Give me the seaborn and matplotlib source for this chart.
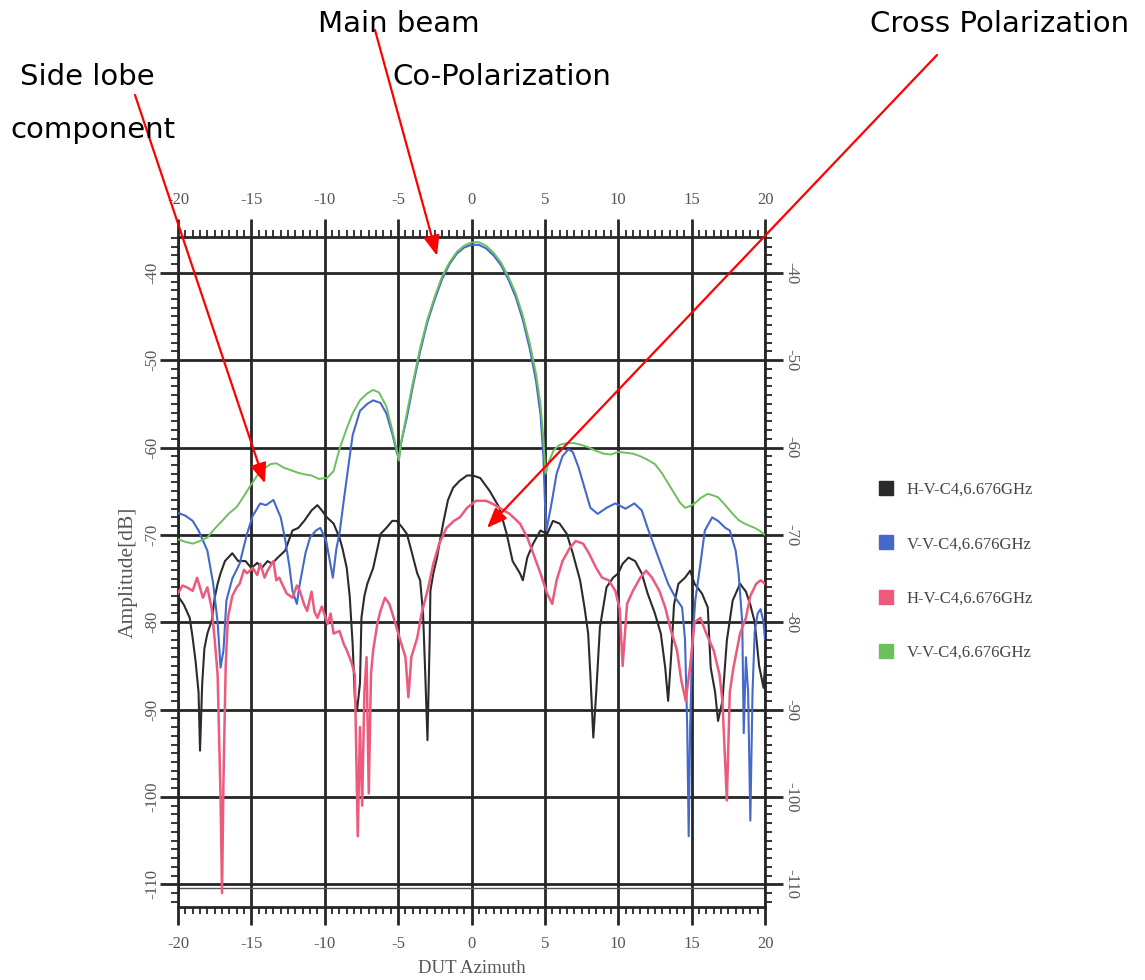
import matplotlib
matplotlib.use("Agg")
import matplotlib.pyplot as plt
from matplotlib.lines import Line2D
from matplotlib.ticker import MultipleLocator
import seaborn as sns
import pandas as pd

# ---------------- data ----------------
hv1_x = [-20, -19.6, -19.2, -19.0, -18.8, -18.6, -18.5, -18.35, -18.2, -18.0, -17.7, -17.5, -17.3, -17.1,
         -16.8, -16.3, -15.9, -15.4, -15.0, -14.6, -14.3, -13.9, -13.6, -13.2, -12.7, -12.2, -11.8, -11.4,
         -10.9, -10.5, -10.2, -9.85, -9.4, -9.0, -8.8, -8.5, -8.3, -8.1, -7.95, -7.8, -7.6, -7.5, -7.3, -7.1,
         -6.7, -6.4, -6.2, -5.8, -5.4, -5.1, -4.7, -4.4, -4.1, -3.7, -3.5, -3.3, -3.15, -3.0, -2.85, -2.8,
         -2.6, -2.35, -2.15, -1.9, -1.6, -1.25, -0.8, -0.3, 0.1, 0.6, 1.25, 1.9, 2.4, 2.8, 3.3, 3.5, 3.8,
         4.2, 4.7, 5.15, 5.55, 6.0, 6.5, 6.9, 7.4, 7.7, 7.95, 8.1, 8.3, 8.5, 8.75, 9.2, 9.65, 10.0, 10.3,
         10.7, 11.15, 11.6, 12.0, 12.5, 12.9, 13.2, 13.4, 13.6, 13.8, 14.1, 14.55, 14.9, 15.2, 15.7, 16.1,
         16.3, 16.6, 16.8, 17.1, 17.4, 17.8, 18.3, 18.7, 19.0, 19.3, 19.6, 19.9, 20]
hv1_y = [-77.0, -78.0, -79.5, -81.8, -84.5, -88.0, -94.7, -87.0, -83.0, -81.3, -79.8, -77.2, -75.6, -74.4,
         -73.0, -72.1, -73.0, -73.0, -73.8, -73.2, -73.8, -73.0, -73.3, -72.6, -71.8, -69.5, -69.2, -68.4,
         -67.2, -66.6, -67.2, -68.0, -68.7, -70.3, -71.5, -73.8, -77.0, -82.5, -88.6, -90.1, -87.0, -79.5, -77.0, -75.6,
         -73.8, -71.5, -69.9, -69.2, -68.4, -68.4, -69.2, -69.9, -71.8, -74.4, -75.2, -79.0, -86.0, -93.5, -82.0, -76.4,
         -74.4, -72.6, -70.7, -68.4, -66.0, -64.6, -63.8, -63.2, -63.2, -63.5, -65.0, -66.9, -69.9, -73.0, -74.4, -75.2, -72.6,
         -71.0, -69.5, -69.9, -68.4, -68.7, -69.9, -72.1, -75.2, -78.3, -81.3, -86.0, -93.2, -88.0, -80.6, -76.0, -74.9, -74.4, -73.3,
         -72.6, -73.0, -74.4, -76.7, -79.0, -81.3, -85.2, -89.0, -84.0, -78.0, -75.6, -74.9, -74.1, -75.6, -76.7, -78.3,
         -85.2, -88.0, -91.3, -89.0, -82.1, -77.5, -75.6, -76.5, -78.0, -80.0, -85.0, -87.5, -85.0]

vv1_x = [-20, -19.5, -19.0, -18.6, -18.0, -17.6, -17.3, -17.1, -16.9, -16.7, -16.3, -15.8, -15.3, -14.9,
         -14.4, -14.0, -13.5, -13.0, -12.7, -12.4, -12.2, -11.9, -11.7, -11.3, -11.0, -10.6, -10.3, -9.9,
         -9.6, -9.45, -9.2, -9.0, -8.7, -8.5, -8.1, -7.6, -7.1, -6.7, -6.2, -5.8, -5.4, -5.1, -4.95,
         -4.8, -4.4, -4.0, -3.5, -3.0, -2.5, -2.0, -1.5, -1.0, -0.5, 0.0, 0.5, 1.0, 1.5, 2.0, 2.5, 3.0,
         3.5, 4.0, 4.4, 4.7, 4.9, 5.0, 5.1, 5.4, 5.8, 6.2, 6.6, 6.9, 7.3, 7.7, 8.1, 8.6, 9.2, 9.8, 10.5,
         11.1, 11.6, 12.0, 12.5, 13.0, 13.4, 13.9, 14.35, 14.55, 14.7, 14.8, 14.9, 15.05, 15.25, 15.6,
         15.9, 16.4, 16.8, 17.3, 17.6, 18.0, 18.2, 18.45, 18.55, 18.7, 18.85, 19.0, 19.15, 19.3, 19.5,
         19.7, 19.9, 20]
vv1_y = [-67.5, -67.8, -68.4, -69.5, -71.8, -75.6, -80.0, -85.2, -83.2, -77.5, -75.0, -73.3, -69.9, -67.8,
         -66.4, -66.6, -66.0, -68.0, -70.5, -73.7, -76.4, -77.9, -75.6, -72.0, -70.3, -69.5, -69.2, -70.7,
         -73.5, -74.9, -71.5, -69.9, -66.0, -63.5, -58.6, -55.8, -55.0, -54.6, -54.9, -56.1, -58.4, -60.5, -61.3,
         -59.5, -56.5, -53.0, -49.0, -45.6, -43.0, -40.7, -39.0, -37.8, -37.1, -36.8, -36.8, -37.2, -38.0, -39.1, -40.7, -42.7,
         -45.4, -48.9, -52.4, -56.2, -61.0, -66.0, -69.5, -66.9, -63.0, -61.0, -60.2, -60.5, -62.3, -64.6, -66.9, -67.6, -66.9, -66.4, -67.0,
         -66.4, -67.2, -69.2, -71.5, -73.8, -75.6, -77.2, -78.3, -82.0, -92.0, -104.5, -92.0, -82.0, -77.5, -73.3,
         -69.5, -68.0, -68.4, -69.2, -69.5, -71.8, -74.4, -80.0, -92.7, -84.0, -88.0, -102.7, -88.0, -81.0, -79.0,
         -78.5, -80.0, -82.0]

hv2_x = [-20, -19.7, -19.4, -19.0, -18.7, -18.3, -18.0, -17.7, -17.5, -17.3, -17.1, -17.0, -16.9, -16.75,
         -16.6, -16.3, -16.0, -15.8, -15.5, -15.3, -14.9, -14.6, -14.4, -14.1, -13.9, -13.5, -13.3, -13.1,
         -12.8, -12.6, -12.2, -11.9, -11.7, -11.4, -11.2, -10.9, -10.7, -10.5, -10.2, -9.8, -9.6, -9.4, -9.0,
         -8.7, -8.5, -8.2, -7.95, -7.75, -7.6, -7.45, -7.3, -7.15, -7.0, -6.85, -6.7, -6.4, -6.2, -5.9, -5.6,
         -5.3, -4.9, -4.5, -4.3, -4.1, -3.7, -3.4, -3.0, -2.6, -2.2, -1.7, -1.2, -0.8, -0.3, 0.3, 1.0, 1.5,
         1.9, 2.6, 3.3, 3.8, 4.2, 4.7, 5.15, 5.5, 5.8, 6.2, 6.7, 7.1, 7.6, 8.0, 8.5, 8.9, 9.35, 9.8, 10.1,
         10.3, 10.6, 11.0, 11.5, 11.9, 12.3, 12.8, 13.2, 13.6, 14.0, 14.3, 14.6, 14.9, 15.2, 15.6, 16.0,
         16.5, 16.9, 17.1, 17.4, 17.6, 17.85, 18.3, 18.7, 19.0, 19.4, 19.7, 20]
hv2_y = [-76.7, -75.8, -76.0, -76.4, -74.9, -77.2, -76.0, -78.5, -82.0, -86.0, -100.0, -111.0, -98.0, -85.0,
         -79.5, -77.0, -76.0, -75.6, -74.0, -74.4, -73.8, -74.6, -73.3, -74.9, -74.1, -73.0, -75.2, -74.9,
         -76.0, -76.7, -77.2, -75.8, -76.4, -78.0, -78.7, -76.5, -78.8, -79.5, -78.2, -80.2, -79.0, -81.3, -81.0,
         -82.5, -83.2, -84.5, -86.0, -104.5, -92.0, -101.0, -88.0, -84.0, -99.6, -86.0, -83.2, -80.0, -78.7, -77.2, -77.9,
         -79.5, -81.8, -84.0, -88.6, -84.0, -81.8, -79.0, -76.4, -73.3, -71.0, -69.2, -68.4, -68.0, -66.9, -66.1, -66.1, -66.5,
         -66.9, -67.6, -68.7, -70.3, -72.1, -74.4, -76.7, -77.9, -75.2, -73.0, -71.5, -70.7, -71.0, -72.1, -73.8, -74.9, -75.2, -76.4, -78.5,
         -85.0, -77.9, -76.4, -74.9, -74.1, -74.9, -76.4, -78.3, -81.0, -83.2, -86.7, -89.0, -85.0, -80.0, -79.5, -81.3,
         -83.2, -86.0, -89.0, -100.4, -88.0, -85.2, -81.3, -79.5, -77.0, -75.6, -75.2, -75.6]

vv2_x = [-20, -19.5, -19.0, -18.5, -18.0, -17.5, -17.0, -16.5, -16.0, -15.6, -15.3, -15.0, -14.6, -14.2,
         -13.7, -13.3, -12.8, -12.3, -11.8, -11.3, -10.9, -10.4, -10.0, -9.85, -9.4, -9.0, -8.5, -8.1, -7.6,
         -7.1, -6.7, -6.3, -5.8, -5.4, -5.1, -4.95, -4.8, -4.4, -4.0, -3.5, -3.0, -2.5, -2.0, -1.5, -1.0,
         -0.5, 0.0, 0.5, 1.0, 1.5, 2.0, 2.5, 3.0, 3.5, 4.0, 4.4, 4.7, 4.9, 5.05, 5.3, 5.6, 6.0, 6.5, 7.0,
         7.5, 8.0, 8.5, 9.0, 9.5, 10.0, 10.5, 11.0, 11.5, 12.0, 12.5, 13.0, 13.4, 13.8, 14.2, 14.55, 14.9,
         15.2, 15.6, 16.1, 16.5, 16.8, 17.3, 17.8, 18.2, 18.6, 19.0, 19.3, 19.6, 20]
vv2_y = [-70.5, -70.8, -71.0, -70.7, -70.3, -69.3, -68.4, -67.5, -66.8, -65.8, -65.0, -64.2, -63.2, -62.5,
         -61.9, -61.8, -62.3, -62.6, -62.9, -63.1, -63.2, -63.6, -63.5, -63.5, -62.7, -60.2, -57.8, -56.1, -54.6,
         -53.8, -53.4, -53.7, -55.3, -58.0, -60.2, -61.5, -59.5, -56.0, -52.6, -48.6, -45.3, -42.7, -40.4, -38.8, -37.6,
         -36.9, -36.5, -36.5, -36.9, -37.7, -38.8, -40.4, -42.3, -44.9, -48.3, -51.6, -55.0, -59.0, -63.0, -61.5, -60.3, -59.7, -59.5, -59.5,
         -59.7, -60.0, -60.4, -60.7, -60.8, -60.5, -60.6, -60.7, -61.0, -61.4, -61.9, -63.0, -64.1, -65.2, -66.3, -66.9, -66.7,
         -66.4, -65.8, -65.3, -65.5, -65.7, -66.6, -67.6, -68.3, -68.7, -69.0, -69.2, -69.5, -70.0]

labels = ["H-V-C4,6.676GHz", "V-V-C4,6.676GHz", "H-V-C4,6.676GHz", "V-V-C4,6.676GHz"]
colors = ["#2b2b2b", "#4468cc", "#ec5a7c", "#6cc05e"]
xticks = [-20, -15, -10, -5, 0, 5, 10, 15, 20]
yticks = [-40, -50, -60, -70, -80, -90, -100, -110]

# ---------------- figure ----------------
sns.set_style("white")
plt.rcParams["font.family"] = ["DejaVu Sans"]
plt.rcParams["axes.unicode_minus"] = False

fig = plt.figure(figsize=(11.45, 9.8), dpi=100)
ax = fig.add_axes([178 / 1145, 73 / 980, 587 / 1145, 670 / 980])

series = [(hv1_x, hv1_y), (vv1_x, vv1_y), (hv2_x, hv2_y), (vv2_x, vv2_y)]
lws = [1.5, 1.5, 1.8, 1.4]
order = [3, 1, 2, 0]
for i in order:
    xs, ys = series[i]
    df = pd.DataFrame({"az": xs, "amp": ys})
    sns.lineplot(data=df, x="az", y="amp", ax=ax, color=colors[i], lw=lws[i],
                 sort=False, legend=False, zorder=3 + i)

ax.set_xlim(-20, 20)
ax.set_ylim(-112.6, -35.9)
ax.set_xticks(xticks)
ax.set_yticks(yticks)
ax.xaxis.set_minor_locator(MultipleLocator(0.5))
ax.yaxis.set_minor_locator(MultipleLocator(1))
ax.grid(which="major", color="#262626", lw=2.0, zorder=1)
ax.axhline(-110.45, color="#555555", lw=1.0, zorder=1)
for s in ax.spines.values():
    s.set_linewidth(2.0)
    s.set_color("#262626")
    s.set_visible(True)

ax.tick_params(which="both", direction="out", top=True, right=True, bottom=True, left=True,
               labeltop=True, labelright=True, color="#262626")
ax.tick_params(which="major", length=13, width=2.0)
ax.tick_params(which="minor", length=5, width=1.3)
ax.tick_params(axis="x", which="major", pad=8, labelsize=12, labelcolor="#555555")
ax.tick_params(axis="y", which="major", pad=0, labelsize=12, labelcolor="#555555")
ax.set_xlabel("")
ax.set_ylabel("")

for t in ax.yaxis.get_major_ticks():
    t.label1.set_rotation(90)
    t.label1.set_va("center")
    t.label1.set_family("Liberation Serif")
    t.label2.set_rotation(270)
    t.label2.set_va("center")
    t.label2.set_family("Liberation Serif")
for t in ax.xaxis.get_major_ticks():
    t.label1.set_family("Liberation Serif")
    t.label2.set_family("Liberation Serif")

fig.text(128 / 1145, 1 - 572 / 980, "Amplitude[dB]", rotation=90, ha="center", va="center",
         family="Liberation Serif", fontsize=15.5, color="#555555")
fig.text(472 / 1145, 1 - 968 / 980, "DUT Azimuth", ha="center", va="center",
         family="Liberation Serif", fontsize=13.5, color="#555555")

# legend
handles = [Line2D([0], [0], marker="s", ls="none", markersize=10, markerfacecolor=c,
                  markeredgecolor=c) for c in colors]
fig.legend(handles, labels, loc="upper left", bbox_to_anchor=(863 / 1145, 1 - 467 / 980),
           frameon=False, prop={"family": "Liberation Serif", "size": 12},
           labelspacing=2.3, handlelength=1.0, handletextpad=0.7, labelcolor="#444444")

# annotation texts
tkw = dict(fontsize=21, color="black", va="center", ha="left", family="DejaVu Sans")
fig.text(318 / 1145, 1 - 24 / 980, "Main beam", **tkw)
fig.text(870 / 1145, 1 - 24 / 980, "Cross Polarization", **tkw)
fig.text(20 / 1145, 1 - 77 / 980, "Side lobe", **tkw)
fig.text(392 / 1145, 1 - 77 / 980, "Co-Polarization", **tkw)
fig.text(10 / 1145, 1 - 130 / 980, "component", **tkw)

# red arrows
akw = dict(arrowstyle="-|>,head_length=0.55,head_width=0.22", color="red", lw=1.6,
           mutation_scale=22, shrinkA=0, shrinkB=0)
ax.annotate("", xy=(-2.35, -38.05), xycoords="data", xytext=(375 / 1145, 1 - 30 / 980),
            textcoords="figure fraction", arrowprops=akw, annotation_clip=False, zorder=10)
ax.annotate("", xy=(-14.08, -64.1), xycoords="data", xytext=(135 / 1145, 1 - 95 / 980),
            textcoords="figure fraction", arrowprops=akw, annotation_clip=False, zorder=10)
ax.annotate("", xy=(1.06, -69.2), xycoords="data", xytext=(937 / 1145, 1 - 55 / 980),
            textcoords="figure fraction", arrowprops=akw, annotation_clip=False, zorder=10)

fig.savefig("out.png", dpi=100)
